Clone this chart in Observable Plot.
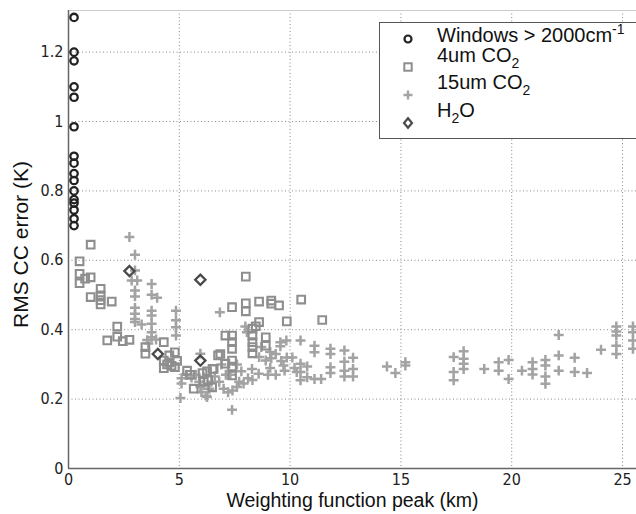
<!DOCTYPE html>
<html>
<head>
<meta charset="utf-8">
<script src="https://cdn.jsdelivr.net/npm/d3@7"></script>
<script src="https://cdn.jsdelivr.net/npm/@observablehq/plot@0.6"></script>
<style>
  html, body { margin: 0; padding: 0; background: #fff; }
  #wrap { position: relative; width: 636px; height: 514px; overflow: hidden; }
  #legend { position: absolute; left: 379px; top: 22px; width: 270px; height: 117px;
    border: 1.5px solid #555; background: #fff; box-sizing: border-box;
    font-family: "Liberation Sans", Arial, sans-serif; font-size: 20px; color: #111; }
  .row { position: absolute; left: 0; height: 24px; line-height: 24px; white-space: nowrap; }
  .row svg { position: absolute; left: 21px; }
  .row span { position: absolute; left: 57px; }
  sub, sup { font-size: 14px; line-height: 0; }
  sub { vertical-align: -6px; } sup { vertical-align: 8px; }
</style>
</head>
<body>
<div id="wrap"></div>
<script>
// ---- Data ----
const windowsPeak = [0.25,0.25,0.25,0.25,0.25,0.25,0.25,0.25,0.25,0.25,0.25,0.25,0.25,0.25,0.25,0.25];
const windowsErr  = [1.30,1.20,1.175,1.10,1.07,0.985,0.90,0.88,0.85,0.83,0.80,0.775,0.765,0.745,0.72,0.70];

const co2_4Peak = [0.5,0.5,0.5,0.75,1.0,1.0,1.0,1.45,1.45,1.45,1.45,1.95,2.2,2.2,1.75,2.45,2.75,3.47,3.47,4.3,
  4.3,4.3,4.55,4.55,4.8,4.8,4.45,4.65,4.9,5.35,5.65,5.5,6.05,6.25,6.5,6.48,6.3,6.1,6.75,
  7.08,7.38,7.38,7.38,7.38,7.38,7.08,7.38,6.85,6.55,
  8.0,7.38,8.0,8.0,8.6,9.15,9.15,9.5,10.5,9.85,11.45,
  8.3,8.3,8.3,8.3,8.3,8.6,8.9,8.9,8.45];
const co2_4Err = [0.597,0.561,0.534,0.547,0.551,0.645,0.494,0.518,0.499,0.485,0.473,0.481,0.409,0.38,0.369,0.367,0.371,0.35,0.331,0.364,
  0.311,0.289,0.326,0.306,0.335,0.292,0.30,0.296,0.31,0.282,0.23,0.27,0.275,0.28,0.287,0.234,0.255,0.25,0.326,
  0.383,0.383,0.364,0.345,0.311,0.294,0.302,0.268,0.33,0.287,
  0.553,0.465,0.476,0.453,0.481,0.484,0.475,0.47,0.487,0.424,0.428,
  0.403,0.383,0.364,0.35,0.332,0.422,0.378,0.354,0.41];

const co2_15Peak = [2.75,3.0,3.0,2.85,3.1,3.0,3.0,3.0,3.0,3.0,3.0,3.3,
  3.75,3.75,4.0,3.75,3.75,3.75,3.75,3.75,3.55,3.95,3.6,
  4.85,4.85,4.85,4.85,
  5.05,5.1,5.1,5.3,5.55,5.75,5.9,5.95,6.0,6.1,6.1,6.2,6.35,6.45,6.6,5.95,6.25,
  6.83,7.98,8.05,7.38,
  6.9,7.1,7.3,7.6,7.8,7.7,7.0,7.2,7.4,7.6,7.9,8.1,8.28,8.58,8.3,6.8,
  8.6,8.9,9.1,9.15,9.35,8.7,9.1,9.0,9.35,
  9.56,9.56,9.83,10.47,11.1,11.1,11.82,11.82,
  9.6,9.85,10.1,9.7,9.75,10.2,10.3,
  10.47,10.47,10.47,10.77,10.77,11.1,11.4,11.82,11.82,
  12.45,12.45,12.45,12.45,12.84,12.84,12.84,
  14.37,14.75,15.2,15.2,
  17.38,17.38,17.38,17.83,17.83,17.83,17.83,
  18.76,19.41,19.41,19.86,19.86,
  20.46,20.94,20.94,20.94,21.52,21.52,21.52,21.52,
  22.12,22.12,22.12,22.84,22.84,23.4,24.03,
  24.72,24.72,24.72,24.72,24.72,25.47,25.47,25.47,25.47];
const co2_15Err = [0.667,0.616,0.571,0.542,0.542,0.513,0.496,0.463,0.446,0.431,0.422,0.415,
  0.532,0.501,0.492,0.455,0.441,0.417,0.393,0.378,0.37,0.372,0.36,
  0.455,0.427,0.407,0.383,
  0.203,0.26,0.245,0.27,0.262,0.27,0.25,0.235,0.22,0.262,0.24,0.21,0.23,0.25,0.265,0.331,0.206,
  0.45,0.409,0.393,0.169,
  0.30,0.27,0.27,0.30,0.28,0.25,0.23,0.22,0.225,0.235,0.245,0.26,0.287,0.273,0.255,0.25,
  0.321,0.311,0.336,0.318,0.33,0.35,0.29,0.27,0.27,
  0.364,0.352,0.369,0.369,0.354,0.335,0.345,0.33,
  0.31,0.32,0.32,0.297,0.282,0.29,0.278,
  0.302,0.278,0.254,0.294,0.263,0.258,0.258,0.292,0.275,
  0.34,0.308,0.282,0.265,0.319,0.287,0.265,
  0.294,0.275,0.306,0.297,
  0.321,0.278,0.254,0.338,0.316,0.302,0.287,
  0.287,0.306,0.282,0.313,0.258,
  0.282,0.306,0.287,0.271,0.313,0.297,0.265,0.244,
  0.385,0.326,0.282,0.319,0.278,0.275,0.342,
  0.409,0.395,0.383,0.354,0.33,0.409,0.393,0.369,0.345];

const h2oPeak = [2.75,4.03,5.95,5.95];
const h2oErr  = [0.569,0.33,0.544,0.311];

const xTicks = [0,5,10,15,20,25];
const yTicks = [0,0.2,0.4,0.6,0.8,1,1.2];
const xLabel = "Weighting function peak (km)";
const yLabel = "RMS CC error (K)";

const zip = (xs, ys) => xs.map((x, i) => ({x, y: ys[i]}));
const windows = zip(windowsPeak, windowsErr);
const co2_4 = zip(co2_4Peak, co2_4Err);
const co2_15 = zip(co2_15Peak, co2_15Err);
const h2o = zip(h2oPeak, h2oErr);

const narrow = "'DejaVu Sans Condensed', 'Liberation Sans Narrow', sans-serif";
const grid = {stroke: "#8a8a8a", strokeDasharray: "1,2.5", strokeWidth: 1, strokeOpacity: 1};

const chart = Plot.plot({
  width: 636, height: 514,
  marginLeft: 68, marginRight: 0, marginTop: 10, marginBottom: 46,
  style: {fontFamily: narrow, fontSize: "16px", fontStretch: "condensed", color: "#222", background: "transparent"},
  x: {domain: [0, 25.63], ticks: xTicks, tickSize: 0, tickPadding: 5, label: null, tickFormat: d => String(d)},
  y: {domain: [0, 1.32], ticks: yTicks, tickSize: 0, tickPadding: 5, label: null, tickFormat: d => String(d)},
  marks: [
    Plot.ruleX(xTicks.filter(d => d > 0), {...grid}),
    Plot.ruleY(yTicks.filter(d => d > 0), {...grid}),
    Plot.ruleY([1.32], {stroke: "#ccc", strokeWidth: 1}),
    Plot.ruleX([0], {stroke: "#666", strokeWidth: 1.5}),
    Plot.ruleY([0], {stroke: "#666", strokeWidth: 1.5}),
    Plot.dot(co2_15, {x: "x", y: "y", symbol: "plus", r: 3.3, stroke: "#a3a3a3", strokeWidth: 2.5}),
    Plot.dot(co2_4, {x: "x", y: "y", symbol: "square", r: 4.3, fill: "none", stroke: "#8e8e8e", strokeWidth: 2.1}),
    Plot.dot(h2o, {x: "x", y: "y", symbol: "diamond2", r: 4.6, fill: "none", stroke: "#4a4a4a", strokeWidth: 2.3}),
    Plot.dot(windows, {x: "x", y: "y", symbol: "circle", r: 3.7, fill: "none", stroke: "#222", strokeWidth: 2.3}),
    Plot.text([yLabel], {frameAnchor: "left", textAnchor: "middle", dx: -47, dy: 5, rotate: -90, fontSize: 21,
      fontFamily: "'Liberation Sans', Arial, sans-serif", fontStretch: "normal", fill: "#111"}),
    Plot.text([xLabel], {frameAnchor: "bottom", textAnchor: "middle", dy: 38, fontSize: 19.5,
      fontFamily: "'Liberation Sans', Arial, sans-serif", fill: "#111"})
  ]
});
const wrap = document.getElementById("wrap");
wrap.appendChild(chart);

// ---- Legend ----
const legendItems = [
  {html: "Windows &gt; 2000cm<sup>-1</sup>", sym: "circle"},
  {html: "4um CO<sub>2</sub>", sym: "square"},
  {html: "15um CO<sub>2</sub>", sym: "plus"},
  {html: "H<sub>2</sub>O", sym: "diamond"}
];
const symSvg = {
  circle: '<circle cx="7" cy="7" r="3.5" fill="none" stroke="#222" stroke-width="2.2"/>',
  square: '<rect x="3.3" y="3.3" width="7.4" height="7.4" fill="none" stroke="#8e8e8e" stroke-width="2"/>',
  plus: '<path d="M7 2.5V11.5M2.5 7H11.5" stroke="#a3a3a3" stroke-width="2.4"/>',
  diamond: '<path d="M7 2.2L11 7L7 11.8L3 7Z" fill="none" stroke="#4a4a4a" stroke-width="2.2"/>'
};
const legend = document.createElement("div");
legend.id = "legend";
const rowTops = [-0.5, 20, 47, 75];
const markerCentres = [15.5, 43.5, 71.5, 99.5];
legendItems.forEach((it, i) => {
  const r = document.createElement("div");
  r.className = "row";
  r.style.top = rowTops[i] + "px";
  r.innerHTML = `<svg width="14" height="14" style="top:${markerCentres[i] - rowTops[i] - 7}px">${symSvg[it.sym]}</svg><span>${it.html}</span>`;
  legend.appendChild(r);
});
wrap.appendChild(legend);
</script>
</body>
</html>
